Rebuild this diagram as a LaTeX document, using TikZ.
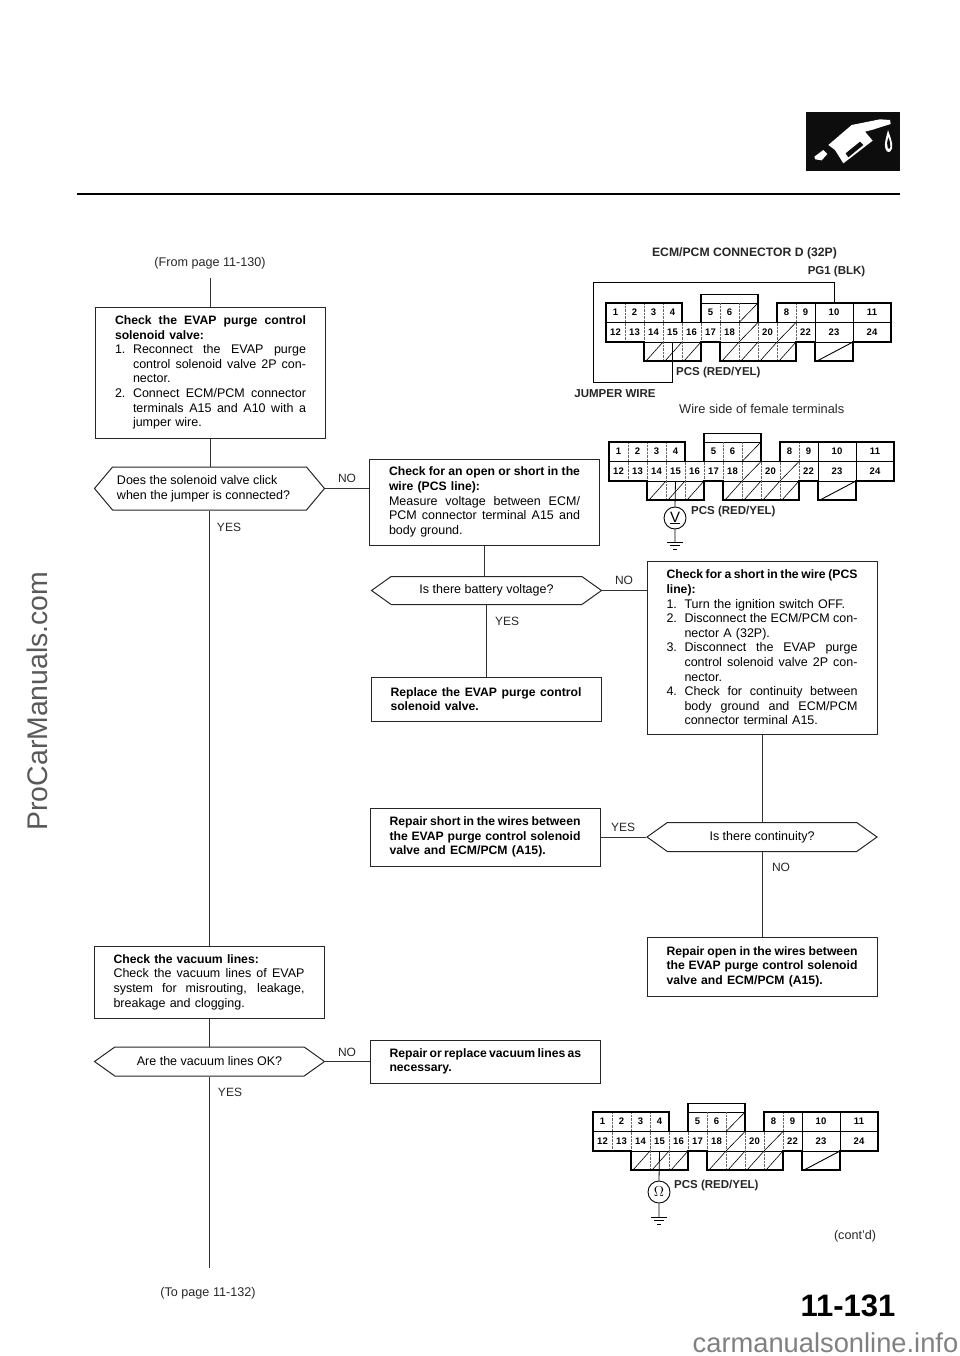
\documentclass[tikz,border=0pt]{standalone}
\usepackage{fontspec}
\setmainfont{Liberation Sans}
\usetikzlibrary{arrows.meta,positioning,calc,shapes.symbols}

\def\bw{191pt}
\newcommand{\fullline}[1]{\makebox[\bw][s]{\spaceskip=0pt\xspaceskip=0pt\relax #1}}
\newcommand{\numline}[2]{\makebox[18pt][l]{#1}\makebox[\dimexpr\bw-18pt\relax][s]{\spaceskip=0pt\xspaceskip=0pt\relax #2}}
\newcommand{\numplain}[2]{\makebox[18pt][l]{#1}#2}
\newcommand{\contline}[1]{\hspace*{18pt}\makebox[\dimexpr\bw-18pt\relax][s]{\spaceskip=0pt\xspaceskip=0pt\relax #1}}
\newcommand{\lastline}[1]{\hspace*{18pt}#1}
\newcommand{\boxhead}[1]{{\fontsize{12.2}{14.6}\bfseries\selectfont #1}}

\tikzset{
  wire/.style={line width=0.9pt, draw=black!80},
  stepbox/.style={draw=black!85, line width=1pt, rectangle, minimum width=230pt, text width=\bw, inner xsep=19.5pt,
    align=left, font=\fontsize{12.5}{14.6}\selectfont},
  askshape/.style={draw=black!85, line width=1pt, signal, signal to=west and east, minimum width=230pt, inner sep=0pt,
    align=left, font=\fontsize{12.5}{14.6}\selectfont},
  flowlabel/.style={font=\fontsize{12}{14}\selectfont, text=black!85, inner sep=0pt},
  pagelabel/.style={font=\fontsize{12.6}{14}\selectfont, text=black!85, inner sep=0pt},
  conntext/.style={font=\fontsize{11.5}{14}\bfseries\selectfont, text=black!85, inner sep=0pt},
  pinlabel/.style={font=\fontsize{9.5}{10}\bfseries\selectfont, inner sep=0pt},
  cellline/.style={line width=0.4pt, densely dotted, draw=black!60},
  pinblock/.pic={
    % thin lines between the cells
    \draw[line width=0.7pt] (0,19.5) -- (285,19.5);
    \draw[line width=0.7pt] (38,39) -- (95,39) (114,39) -- (190,39) (209,39) -- (247,39);
    \draw[line width=0.7pt] (95,0) -- (152,0);
    \foreach \col in {1,2,3,6,7,10} \draw[cellline] (\col*19,0) -- (\col*19,19.5);
    \foreach \col in {1,...,10} \draw[cellline] (\col*19,19.5) -- (\col*19,39);
    \foreach \col in {3,4,7,8,9} \draw[cellline] (\col*19,39) -- (\col*19,58);
    \draw[line width=0.7pt] (209,0) -- (209,39) (247,0) -- (247,39);
    % hatched cells
    \foreach \col in {2,3,4,6,7,8,9} \draw[line width=0.6pt] (\col*19+2,58) -- (\col*19+19,39);
    \draw[line width=0.6pt] (133,19.5) -- (152,0) (133,39) -- (152,19.5) (171,39) -- (190,19.5);
    \draw[line width=0.9pt] (211,58) -- (247,39);
    % outline
    \draw[line width=1.5pt, line join=miter] (0,0) -- (76,0) -- (76,19.5) -- (95,19.5) -- (95,-8.5) -- (152,-8.5) -- (152,19.5) -- (171,19.5)
      -- (171,0) -- (285,0) -- (285,39) -- (247,39) -- (247,58) -- (209,58) -- (209,39) -- (190,39) -- (190,58)
      -- (114,58) -- (114,39) -- (95,39) -- (95,58) -- (38,58) -- (38,39) -- (0,39) -- cycle;
    % terminal numbers
    \foreach \lab/\col in {1/0,2/1,3/2,4/3,5/5,6/6,8/9,9/10}
      \node[pinlabel] (pin\lab) at (\col*19+9.5,9.5) {\lab};
    \foreach \lab/\col in {12/0,13/1,14/2,15/3,16/4,17/5,18/6,20/8,22/10}
      \node[pinlabel] (pin\lab) at (\col*19+9.5,29) {\lab};
    \node[pinlabel] (pin10) at (228,9.5) {10};
    \node[pinlabel] (pin11) at (266,9.5) {11};
    \node[pinlabel] (pin23) at (228,29) {23};
    \node[pinlabel] (pin24) at (266,29) {24};
    \coordinate (pcs) at (66.5,39);
    \coordinate (pcslow) at (66.5,58);
    \coordinate (pgone) at (228,0);
  },
  groundsym/.pic={
    \draw[line width=0.8pt] (-8,0) -- (8,0) (-5,3.5) -- (5,3.5) (-2,7) -- (2,7);
  }
}

\begin{document}
\begin{tikzpicture}[x=1pt,y=-1pt]
  \useasboundingbox (0,0) rectangle (960,1356);

  % Fuel nozzle tab and top rule
  \fill[black!95] (806,112) rectangle (900,171);
  \begin{scope}[shift={(780,100)},scale=1/3]
    \fill[white] (145,135) -- (215,75) -- (240,70) -- (300,58) -- (330,60) -- (332,72) -- (275,90) -- (255,95)
      -- (278,122) -- (190,190) -- (165,150) -- cycle;
    \fill[black!95] (197,160) -- (240,125) -- (250,135) -- (205,172) -- cycle;
    \fill[white] (103,170) -- (130,150) -- (142,162) -- (125,181) -- (106,178) -- cycle;
    \fill[white] (324,90) .. controls (318,115) and (312,130) .. (316,145) .. controls (320,160) and (332,160) .. (336,145)
      .. controls (340,130) and (330,110) .. (324,90) -- cycle;
    \fill[black!95] (325,112) .. controls (321,125) and (320,135) .. (323,143) .. controls (326,150) and (330,148) .. (331,140)
      .. controls (332,130) and (328,120) .. (325,112) -- cycle;
  \end{scope}
  \draw[line width=2.4pt] (77,194) -- (900,194);

  % Left column
  \node[pagelabel] (frompage) at (210,263) {(From page 11-130)};
  \node[stepbox, minimum height=131pt] (solcheck) at (210.5,372.5) {\fullline{\boxhead{Check the EVAP purge control}}\\
    \boxhead{solenoid valve:}\\
    \numline{1.}{Reconnect the EVAP purge}\\
    \contline{control solenoid valve 2P con-}\\
    \lastline{nector.}\\
    \numline{2.}{Connect ECM/PCM connector}\\
    \contline{terminals A15 and A10 with a}\\
    \lastline{jumper wire.}};
  \node[askshape, minimum height=43pt, signal pointer angle=100] (clickask) at (209.5,488.5)
    {Does the solenoid valve click\\when the jumper is connected?\hspace*{12pt}};
  \node[stepbox, minimum height=72pt] (vaccheck) at (209,982) {\boxhead{Check the vacuum lines:}\\
    \fullline{Check the vacuum lines of EVAP}\\
    \fullline{system for misrouting, leakage,}\\
    breakage and clogging.};
  \node[askshape, minimum height=29pt, signal pointer angle=71] (vacask) at (209.5,1061.5) {Are the vacuum lines OK?};
  \node[pagelabel] (topage) at (208,1293) {(To page 11-132)};
  \coordinate (fromend) at (210,278);
  \coordinate (toend) at (209.5,1268);

  % Middle column
  \node[stepbox, minimum height=86pt] (opencheck) at (484.5,502) {\fullline{\boxhead{Check for an open or short in the}}\\
    \boxhead{wire (PCS line):}\\
    \fullline{Measure voltage between ECM/}\\
    \fullline{PCM connector terminal A15 and}\\
    body ground.};
  \node[askshape, minimum height=28pt, signal pointer angle=71] (battask) at (486.5,590.5) {Is there battery voltage?};
  \node[stepbox, minimum height=44pt] (replacebox) at (486,699) {\fullline{\boxhead{Replace the EVAP purge control}}\\
    \boxhead{solenoid valve.}};
  \node[stepbox, minimum height=58pt] (shortbox) at (485,837) {\fullline{\boxhead{Repair short in the wires between}}\\
    \fullline{\boxhead{the EVAP purge control solenoid}}\\
    \boxhead{valve and ECM/PCM (A15).}};
  \node[stepbox, minimum height=43pt] (vacrepair) at (485,1061.5) {\fullline{\boxhead{Repair or replace vacuum lines as}}\\
    \boxhead{necessary.}};

  % Right column
  \node[stepbox, minimum height=173pt] (gndcheck) at (762,647.5) {\fullline{\boxhead{Check for a short in the wire (PCS}}\\
    \boxhead{line):}\\
    \numplain{1.}{Turn the ignition switch OFF.}\\
    \numline{2.}{Disconnect the ECM/PCM con-}\\
    \lastline{nector A (32P).}\\
    \numline{3.}{Disconnect the EVAP purge}\\
    \contline{control solenoid valve 2P con-}\\
    \lastline{nector.}\\
    \numline{4.}{Check for continuity between}\\
    \contline{body ground and ECM/PCM}\\
    \lastline{connector terminal A15.}};
  \node[askshape, minimum height=29pt, signal pointer angle=71] (contask) at (762,837) {Is there continuity?};
  \node[stepbox, minimum height=59pt] (openbox) at (762,966.5) {\fullline{\boxhead{Repair open in the wires between}}\\
    \fullline{\boxhead{the EVAP purge control solenoid}}\\
    \boxhead{valve and ECM/PCM (A15).}};

  % Flow lines
  \draw[wire] (fromend) -- (fromend |- solcheck.north);
  \draw[wire] (solcheck.south) -- (solcheck.south |- clickask.north);
  \draw[wire] (clickask.south) -- (clickask.south |- vaccheck.north);
  \draw[wire] (clickask.east) -- (clickask.east -| opencheck.west);
  \draw[wire] (vaccheck.south) -- (vaccheck.south |- vacask.north);
  \draw[wire] (vacask.east) -- (vacrepair.west);
  \draw[wire] (vacask.south) -- (toend);
  \draw[wire] (opencheck.south) -- (opencheck.south |- battask.north);
  \draw[wire] (battask.south) -- (battask.south |- replacebox.north);
  \draw[wire] (battask.east) -- (battask.east -| gndcheck.west);
  \draw[wire] (gndcheck.south) -- (contask.north);
  \draw[wire] (contask.south) -- (openbox.north);
  \draw[wire] (contask.west) -- (shortbox.east);

  % YES and NO
  \node[flowlabel] (yesclick) at (229,527) {YES};
  \node[flowlabel] (noclick) at (347,478) {NO};
  \node[flowlabel] (yesvac) at (230,1092) {YES};
  \node[flowlabel] (novac) at (347,1052) {NO};
  \node[flowlabel] (yesbatt) at (507,621) {YES};
  \node[flowlabel] (nobatt) at (624,580) {NO};
  \node[flowlabel] (yescont) at (623,827) {YES};
  \node[flowlabel] (nocont) at (781,867) {NO};

  % Jumper wire view
  \node[conntext, font=\fontsize{12.2}{14}\bfseries\selectfont] (conntitle) at (744.5,253) {ECM/PCM CONNECTOR D (32P)};
  \node[conntext] (pgname) at (836.5,272) {PG1 (BLK)};
  \pic (cnA) at (606,303) {pinblock};
  \coordinate (jumpa) at (593,282);
  \coordinate (jumpb) at (593,382);
  \draw[line width=0.9pt] (cnApgone) |- (jumpa) -- (jumpb) -| (cnApcs);
  \node[conntext, anchor=west] (pcsjump) at (676,373) {PCS (RED/YEL)};
  \node[conntext] (jumpname) at (615,394) {JUMPER WIRE};
  \node[pagelabel, anchor=west, font=\fontsize{12.8}{14}\selectfont] (wireside) at (679,409) {Wire side of female terminals};

  % Voltmeter view
  \pic (cnB) at (609,442) {pinblock};
  \node[draw, circle, line width=0.9pt, minimum size=22pt, inner sep=0pt, font=\fontsize{15}{15}\selectfont] (vmeter) at (675,518) {\underline{V}};
  \coordinate (gndb) at (675,542);
  \draw[line width=0.8pt] (cnBpcs) -- (vmeter.north) (vmeter.south) -- (gndb);
  \pic at (gndb) {groundsym};
  \node[conntext, anchor=west] (pcsvolt) at (691,512) {PCS (RED/YEL)};

  % Ohmmeter view
  \pic (cnC) at (593,1112) {pinblock};
  \node[draw, circle, line width=0.9pt, minimum size=22pt, inner sep=0pt, font=\fontsize{15}{15}\selectfont] (ohmmeter) at (659,1192) {$\Omega$};
  \coordinate (gndc) at (659,1217);
  \draw[line width=0.8pt] (cnCpcs) -- (ohmmeter.north) (ohmmeter.south) -- (gndc);
  \pic at (gndc) {groundsym};
  \node[conntext, anchor=west] (pcsohm) at (674,1186) {PCS (RED/YEL)};

  % Page furniture
  \node[pagelabel] (contd) at (855,1236) {(cont'd)};
  \node[inner sep=0pt, font=\fontsize{31}{31}\bfseries\selectfont] (pagenum) at (848,1306) {11-131};
  \node[inner sep=0pt, text=black!50, font=\fontsize{27.3}{30}\selectfont] (sitename) at (825.5,1343) {carmanualsonline.info};
  \node[inner sep=0pt, text=black!65, rotate=90, font=\fontsize{28.4}{30}\selectfont] (sidename) at (37,701) {ProCarManuals.com};
\end{tikzpicture}
\end{document}
